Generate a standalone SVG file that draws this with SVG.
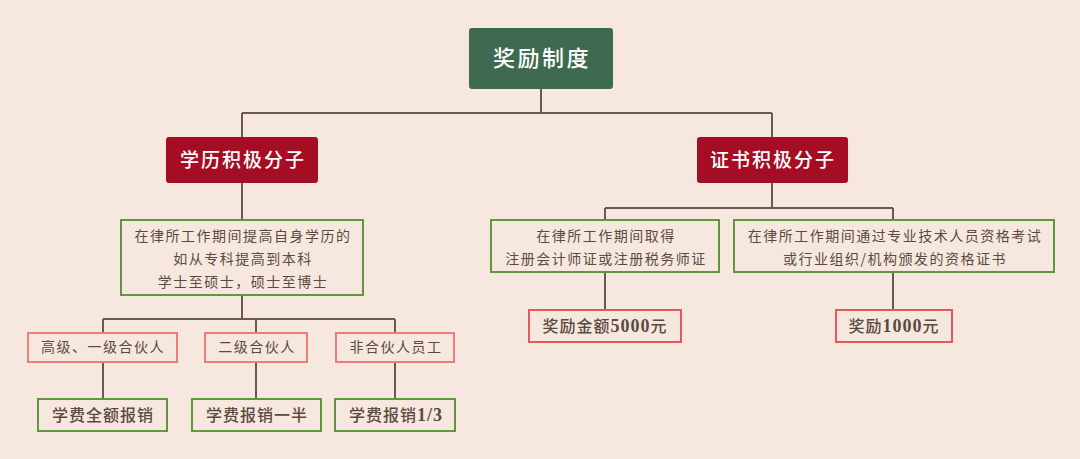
<svg xmlns="http://www.w3.org/2000/svg" width="1080" height="459" viewBox="0 0 1080 459">
<style>
.cn{font-family:"Noto Sans CJK SC","Noto Sans",sans-serif;text-anchor:middle}
.body{font-size:14px;fill:#5b4a41;letter-spacing:1.5px}
.l5{font-size:16px;fill:#5b4a41;letter-spacing:1px;font-weight:500}
.num{font-family:"Liberation Serif",serif;font-weight:bold;font-size:18px}
.gbox{fill:#f7e8df;stroke:#5e9a3c;stroke-width:2}
.pbox{fill:#f7e8df;stroke:#ec7d7b;stroke-width:2}
.rbox{fill:#f7e8df;stroke:#e25a5a;stroke-width:2}
.conn{fill:none;stroke:#6b5950;stroke-width:2}
</style>
<rect width="1080" height="459" fill="#f7e8df"/>
<g id="connectors" class="conn">
<path d="M541 89V113M242 113H772M242 113V137M772 113V137"/>
<path d="M242 183V220M242 295V319M103 319H395M103 319V333M256 319V333M395 319V333"/>
<path d="M103 362V399M256 362V399M395 362V399"/>
<path d="M772 183V208M605 208H893M605 208V220M893 208V220M605 272V310M893 272V310"/>
</g>
<g id="root">
<rect x="469" y="28" width="144" height="61" rx="3" fill="#3d6a50"/>
<text x="542" y="66" class="cn" font-size="22" font-weight="500" fill="#ffffff" letter-spacing="2.5">奖励制度</text>
</g>
<g id="edu">
<rect x="166" y="137" width="152" height="46" rx="3" fill="#a50d24"/>
<text x="243" y="167" class="cn" font-size="19" font-weight="500" fill="#ffffff" letter-spacing="2">学历积极分子</text>
</g>
<g id="cert">
<rect x="697" y="137" width="151" height="46" rx="3" fill="#a50d24"/>
<text x="773" y="167" class="cn" font-size="19" font-weight="500" fill="#ffffff" letter-spacing="2">证书积极分子</text>
</g>
<g id="edu-desc">
<rect x="121" y="220" width="242" height="75" class="gbox"/>
<text class="cn body" x="243" y="241">在律所工作期间提高自身学历的</text>
<text class="cn body" x="243" y="264">如从专科提高到本科</text>
<text class="cn body" x="243" y="287">学士至硕士，硕士至博士</text>
</g>
<g id="p1">
<rect x="28" y="333" width="149" height="29" class="pbox"/>
<text class="cn body" x="103" y="352">高级、一级合伙人</text>
</g>
<g id="p2">
<rect x="205" y="333" width="102" height="29" class="pbox"/>
<text class="cn body" x="257" y="352">二级合伙人</text>
</g>
<g id="p3">
<rect x="336" y="333" width="118" height="29" class="pbox"/>
<text class="cn body" x="396" y="352">非合伙人员工</text>
</g>
<g id="r1">
<rect x="38" y="399" width="129" height="32" class="gbox"/>
<text class="cn l5" x="103" y="421">学费全额报销</text>
</g>
<g id="r2">
<rect x="192" y="399" width="129" height="32" class="gbox"/>
<text class="cn l5" x="257" y="421">学费报销一半</text>
</g>
<g id="r3">
<rect x="335" y="399" width="120" height="32" class="gbox"/>
<text class="cn l5" x="396" y="421">学费报销<tspan class="num">1/3</tspan></text>
</g>
<g id="cert-desc1">
<rect x="491" y="220" width="228" height="52" class="gbox"/>
<text class="cn body" x="606" y="241">在律所工作期间取得</text>
<text class="cn body" x="606" y="264">注册会计师证或注册税务师证</text>
</g>
<g id="cert-desc2">
<rect x="734" y="220" width="320" height="52" class="gbox"/>
<text class="cn body" x="895" y="241">在律所工作期间通过专业技术人员资格考试</text>
<text class="cn body" x="895" y="264">或行业组织/机构颁发的资格证书</text>
</g>
<g id="award1">
<rect x="529" y="310" width="152" height="32" class="rbox"/>
<text class="cn l5" x="605" y="332">奖励金额<tspan class="num">5000</tspan>元</text>
</g>
<g id="award2">
<rect x="836" y="310" width="116" height="32" class="rbox"/>
<text class="cn l5" x="894" y="332">奖励<tspan class="num">1000</tspan>元</text>
</g>
</svg>
